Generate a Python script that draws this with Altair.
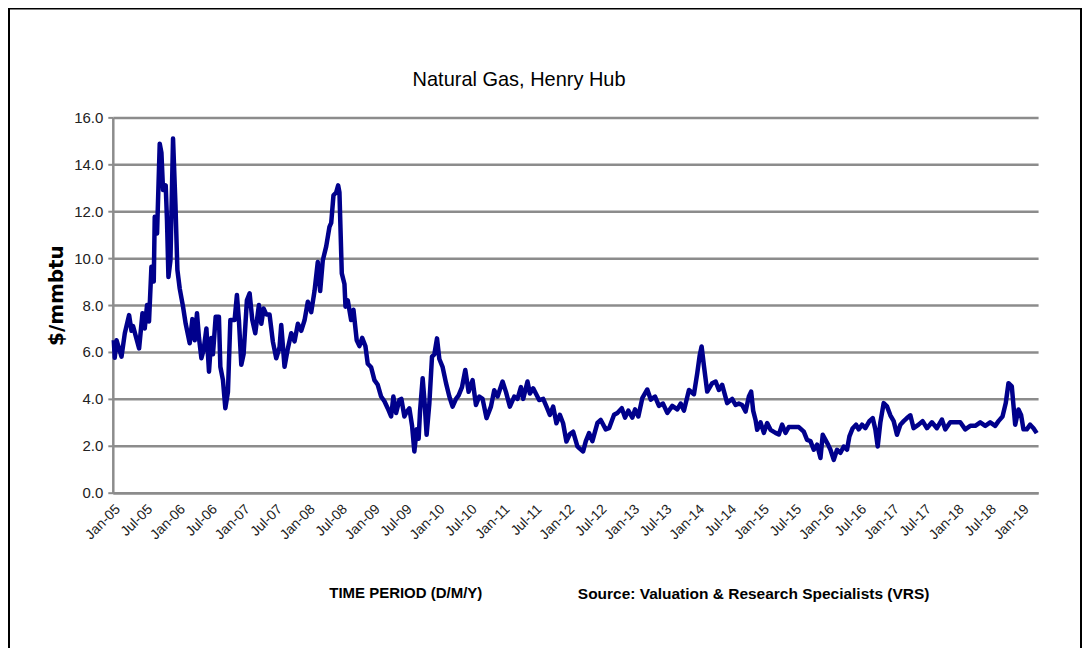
import altair as alt
import pandas as pd
import numpy as np

# Fractional years since Jan-2005 and price ($/mmbtu)
t_a = [0.015,0.03,0.057,0.134,0.185,0.251,0.288,0.312,0.405,0.457,0.492,0.528,0.558,0.595,0.631,0.646,0.682,0.723,0.749,0.774,
       0.815,0.835,0.857,0.888,0.928,0.965,0.995,1.031,1.082,1.123,1.185,1.226,1.262,1.297,1.328,1.365,1.4,1.442,1.482,1.518,
       1.543,1.585,1.635,1.657,1.697,1.734,1.774,1.811,1.877,1.912,1.943,1.98,2.015,2.066,2.108,2.149,2.195,2.251,2.288,2.323,
       2.365,2.415,2.466,2.518,2.569,2.595,2.646,2.697,2.749,2.8,2.851,2.903,2.954,3.005,3.057,3.108,3.158,3.195,3.235,3.288,
       3.338,3.365,3.4,3.442,3.472,3.492,3.528,3.569]
p_a = [6.5,5.75,6.5,5.8,6.8,7.57,6.9,7.1,6.15,7.65,7.0,8.0,7.3,9.63,9.0,11.76,11.05,14.88,14.5,12.9,
       13.1,11.6,9.2,9.9,15.1,12.3,9.5,8.7,7.93,7.2,6.37,7.4,6.5,7.65,6.6,5.73,6.1,7.0,5.16,6.6,
       5.9,7.5,7.5,5.37,4.8,3.6,4.3,7.36,7.36,8.43,7.36,5.45,5.9,8.2,8.5,7.36,6.8,8.0,7.2,7.85,
       7.6,7.6,6.44,5.73,6.2,7.15,5.37,6.15,6.8,6.45,7.2,6.9,7.35,8.14,7.7,8.6,9.84,8.6,9.9,10.5,
       11.33,11.5,12.68,12.8,13.1,12.8,9.35,8.9]

t_b = [3.585,3.62,3.672,3.708,3.758,3.8,3.842,3.892,3.928,3.98,4.031,4.082,4.134,4.185,4.235,4.288,4.323,4.365,4.415,4.446,
       4.492,4.528,4.569,4.611,4.646,4.682,4.712,4.734,4.774,4.805,4.835,4.877,4.918,4.954,4.995,5.031,5.082,5.134,5.185,5.235,
       5.288,5.328,5.38,5.431,5.482,5.543,5.595,5.646,5.697,5.758,5.826,5.877,5.928,6.005,6.057,6.118,6.185,6.235,6.288,6.323,
       6.389,6.426,6.477,6.518,6.569,6.631,6.682,6.734,6.785,6.835,6.888,6.938,6.989,7.042,7.092,7.158]
p_b = [7.93,8.2,7.36,7.8,6.5,6.25,6.6,6.25,5.5,5.35,4.8,4.6,4.1,3.9,3.6,3.25,4.1,3.4,3.95,4.0,
       3.25,3.45,3.6,2.85,1.76,2.7,2.3,3.5,4.88,3.8,2.47,3.8,5.8,5.9,6.58,5.7,5.35,4.67,4.1,3.67,
       4.0,4.15,4.5,5.23,4.3,4.8,3.74,4.1,4.0,3.18,3.67,4.37,4.1,4.74,4.3,3.67,4.1,4.0,4.5,4.0,
       4.74,4.23,4.45,4.23,3.95,4.0,3.67,3.32,3.67,2.96,3.32,2.96,2.18,2.5,2.6,1.97]

t_c = [7.185,7.246,7.288,7.338,7.389,7.466,7.518,7.595,7.646,7.723,7.774,7.842,7.892,7.943,8.005,8.046,8.097,8.158,8.235,8.288,
       8.354,8.415,8.477,8.543,8.62,8.697,8.749,8.8,8.877,8.954,9.005,9.042,9.072,9.108,9.158,9.235,9.288,9.338,9.389,9.466]
p_c = [1.9,1.76,2.2,2.54,2.2,2.97,3.1,2.7,2.75,3.32,3.4,3.6,3.2,3.5,3.2,3.55,3.25,4.03,4.4,3.97,
       4.1,3.7,3.8,3.4,3.7,3.55,3.8,3.5,4.38,4.2,5.1,5.85,6.23,5.4,4.31,4.67,4.74,4.38,4.6,3.82]

t_d = [9.543,9.595,9.646,9.697,9.749,9.8,9.835,9.866,9.903,9.928,9.98,10.031,10.082,10.134,10.211,10.262,10.312,10.365,10.415,10.492,
       10.569]
p_d = [4.0,3.74,3.8,3.74,3.46,4.1,4.31,3.5,3.1,2.68,3.0,2.55,2.97,2.68,2.55,2.48,2.9,2.55,2.8,2.8,
       2.8]

t_e = [10.646,10.697,10.749,10.8,10.851,10.903,10.938,10.98,11.02,11.057,11.108,11.158,11.211,11.262,11.312,11.349,11.4,11.451,11.492,11.543,
       11.595,11.657,11.708,11.749,11.785,11.826,11.877,11.928,11.98,12.031,12.082,12.134,12.185,12.235,12.288,12.338,12.415,12.477,12.543,12.62,
       12.697,12.774,12.826,12.903,12.98,13.057,13.134,13.211,13.288,13.365,13.442,13.518,13.595,13.646,13.708,13.758,13.8,13.851,13.903,13.954,
       13.995,14.031,14.082,14.134,14.185,14.235]
p_e = [2.6,2.25,2.2,1.83,2.05,1.48,2.47,2.25,2.05,1.83,1.4,1.83,1.7,1.97,1.83,2.4,2.75,2.9,2.7,2.9,
       2.75,3.05,3.18,2.7,1.97,3.0,3.82,3.68,3.3,3.05,2.47,2.9,3.05,3.18,3.3,2.75,2.9,3.05,2.75,3.0,
       2.75,3.12,2.7,3.0,3.0,3.0,2.7,2.85,2.85,3.0,2.85,3.0,2.85,3.05,3.25,3.82,4.67,4.53,2.9,3.55,
       3.3,2.7,2.7,2.9,2.75,2.54]

y_ticks = [0, 2, 4, 6, 8, 10, 12, 14, 16]
x_tick_years = list(range(2005, 2020))
x_tick_months = [1, 7]

title_text = "Natural Gas, Henry Hub"
y_title = "$/mmbtu"
x_title = "TIME PERIOD (D/M/Y)"
source_text = "Source: Valuation & Research Specialists (VRS)"

years = t_a + t_b + t_c + t_d + t_e
prices = p_a + p_b + p_c + p_d + p_e
dates = pd.Timestamp("2005-01-01") + pd.to_timedelta(np.array(years) * 365.25, unit="D")
df = pd.DataFrame({"date": dates.strftime("%Y-%m-%dT%H:%M:%S"), "price": prices})

tick_vals = []
for yr in x_tick_years:
    for m in x_tick_months:
        if yr == 2019 and m == 7:
            continue
        tick_vals.append(alt.DateTime(year=yr, month=m, date=1))

FONT = "'Liberation Sans', Arial, sans-serif"
GRID = "#8c8c8c"
W, H = 927, 376

x_enc = alt.X(
    "date:T",
    scale=alt.Scale(domain=[alt.DateTime(year=2005, month=1, date=1),
                            alt.DateTime(year=2019, month=4, date=5)]),
    axis=alt.Axis(values=tick_vals, format="%b-%y", labelAngle=-45, grid=False, ticks=False,
                  domainColor=GRID, domainWidth=2.5, labelFont=FONT, labelFontSize=14,
                  labelColor="#222222", labelPadding=9, labelOverlap=False, labelFlush=False,
                  title=x_title, titleFont=FONT, titleFontSize=15, titleFontWeight="bold",
                  titleColor="black", titleX=293, titleY=100, titleBaseline="middle",
                  titleAlign="center"),
)
y_enc = alt.Y(
    "price:Q",
    scale=alt.Scale(domain=[0, 16], nice=False),
    axis=alt.Axis(values=y_ticks, format=".1f", gridColor=GRID, gridWidth=2.5,
                  domainColor=GRID, domainWidth=2.5, tickColor=GRID, tickWidth=2, tickSize=5,
                  labelFont=FONT, labelFontSize=15, labelColor="#222222", labelPadding=5,
                  title=y_title, titleFont="DejaVu Sans", titleFontSize=20, titleFontWeight="bold",
                  titleColor="black", titleX=-56, titleY=178, titleAngle=270,
                  titleBaseline="middle", titleAlign="center"),
)

line = alt.Chart(df).mark_line(color="#00008c", strokeWidth=4.5, strokeJoin="round").encode(
    x=x_enc, y=y_enc
)

frame = alt.Chart(pd.DataFrame({"k": [0]})).mark_rect(
    filled=False, stroke="black", strokeWidth=2
).encode(x=alt.value(-104), x2=alt.value(970), y=alt.value(-109), y2=alt.value(600))

source = alt.Chart(pd.DataFrame({"s": [source_text]})).mark_text(
    font=FONT, fontSize=15.5, fontWeight="bold", color="black", align="center", baseline="middle"
).encode(text="s:N", x=alt.value(642), y=alt.value(478))

title = alt.Chart(pd.DataFrame({"s": [title_text]})).mark_text(
    font=FONT, fontSize=20, fontWeight="normal", color="black", align="center",
    baseline="alphabetic"
).encode(text="s:N", x=alt.value(407), y=alt.value(-31))

chart = alt.layer(line, source, title, frame).properties(
    width=W, height=H,
    autosize=alt.AutoSizeParams(type="none"),
    padding={"left": 105, "top": 109, "right": 45, "bottom": 155},
    background="white",
).configure_view(stroke=None)

chart.save("out.html", embed_options={"renderer": "svg", "actions": False})
